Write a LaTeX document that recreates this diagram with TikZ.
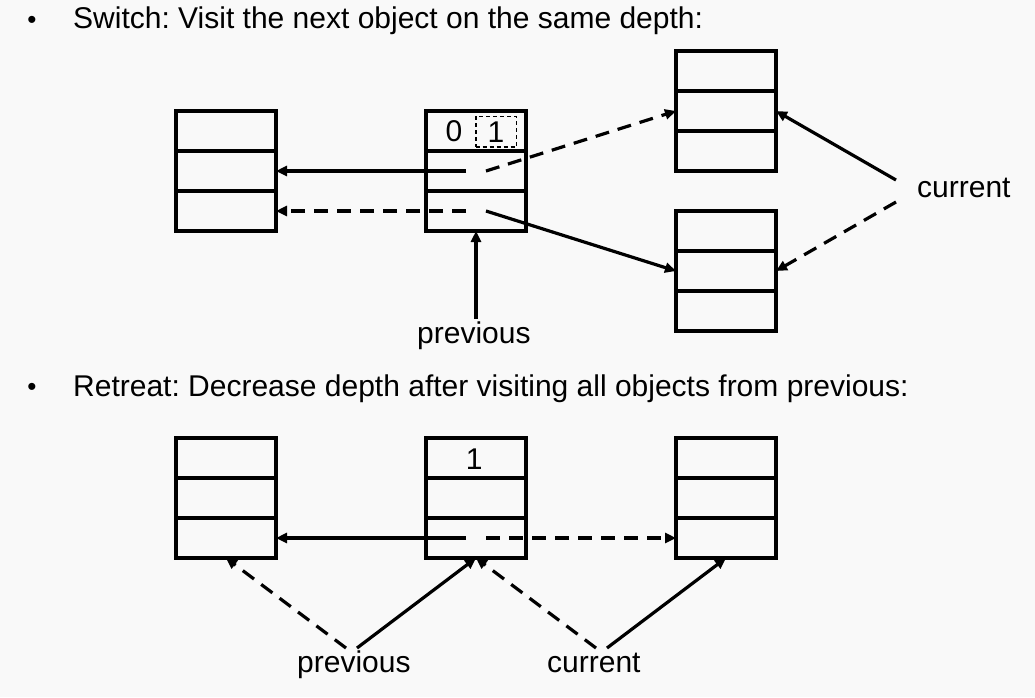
\documentclass[tikz,border=0pt]{standalone}
\usepackage{fontspec}
\setmainfont{Liberation Sans}
\usetikzlibrary{arrows.meta,calc}
\definecolor{bg}{RGB}{249,249,249}
\frenchspacing
\begin{document}
\begin{tikzpicture}[x=1pt,y=-1pt,
  objbox/.style={draw, line width=3.2pt, minimum width=100pt, minimum height=120pt, inner sep=0pt, outer sep=0pt},
  rowline/.style={line width=3.2pt},
  lbl/.style={inner sep=0pt, font=\fontsize{30}{36}\selectfont},
  bul/.style={inner sep=0pt, font=\fontsize{26}{30}\selectfont},
  arr/.style={line width=3.2pt, -{Triangle[length=11pt,width=10pt]}},
  dsh/.style={dash pattern=on 14pt off 9pt},
  flagbox/.style={draw, line width=1.6pt, dash pattern=on 4pt off 3pt, minimum width=40.6pt, minimum height=30.7pt, inner sep=0pt, font=\fontsize{30}{36}\selectfont}
]
\fill[bg] (0,0) rectangle (1035,697);
\useasboundingbox (0,0) rectangle (1035,697);

% titles
\node[bul, anchor=base] (b1) at (32,28) {•};
\node[lbl, anchor=base west] (t1) at (73,28) {Switch: Visit the next object on the same depth:};
\node[bul, anchor=base] (b2) at (32,395) {•};
\node[lbl, anchor=base west] (t2) at (73,396) {Retreat: Decrease depth after visiting all objects from previous:};

% boxes, top
\node[objbox] (L1) at (226,171) {};
\node[objbox] (M1) at (476,171) {};
\node[objbox] (Ra) at (726,111) {};
\node[objbox] (Rb) at (726,271) {};
% boxes, bottom
\node[objbox] (L2) at (226,498) {};
\node[objbox] (M2) at (476,498) {};
\node[objbox] (R2) at (726,498) {};

\foreach \b in {L1,M1,Ra,Rb,L2,M2,R2}{
  \draw[rowline] ($(\b.north west)+(0,40)$) -- ($(\b.north east)+(0,40)$);
  \draw[rowline] ($(\b.north west)+(0,80)$) -- ($(\b.north east)+(0,80)$);
}

% flags
\node[lbl, anchor=base] (zero) at (454,141) {0};
\node[flagbox] (one) at (496,131.7) {1};
\node[lbl, anchor=base] (oneB) at (474.3,469.3) {1};

% top arrows
\coordinate (m1a) at ($(M1.center)+(-10,0)$);
\coordinate (m1b) at ($(M1.center)+(10,0)$);
\coordinate (m1c) at ($(M1.center)+(-10,40)$);
\coordinate (m1d) at ($(M1.center)+(10,40)$);
\draw[arr] (m1a) -- (L1.east);
\draw[arr,dsh] (m1b) -- (Ra.west);
\draw[arr,dsh] (m1c) -- ($(L1.east)+(0,40)$);
\draw[arr] (m1d) -- (Rb.west);

\node[lbl, anchor=base west] (prevA) at (417,343) {previous};
\coordinate (prevAtop) at (476,319);
\draw[arr] (prevAtop) -- (M1.south);

\node[lbl, anchor=base west] (curA) at (917,197) {current};
\coordinate (curA1) at (896,180);
\coordinate (curA2) at (896,202);
\draw[arr] (curA1) -- (Ra.east);
\draw[arr,dsh] (curA2) -- (Rb.east);

% bottom arrows
\coordinate (m2a) at ($(M2.center)+(-10,40)$);
\coordinate (m2b) at ($(M2.center)+(10,40)$);
\draw[arr] (m2a) -- ($(L2.east)+(0,40)$);
\draw[arr,dsh] (m2b) -- ($(R2.west)+(0,40)$);

\node[lbl, anchor=base west] (prevB) at (297,672) {previous};
\node[lbl, anchor=base west] (curB) at (547,672) {current};
\coordinate (pb1) at (346,648);
\coordinate (pb2) at (357,648);
\coordinate (cb1) at (596,648);
\coordinate (cb2) at (607,648);
\draw[arr,dsh] (pb1) -- (L2.south);
\draw[arr] (pb2) -- (M2.south);
\draw[arr,dsh] (cb1) -- (M2.south);
\draw[arr] (cb2) -- (R2.south);
\end{tikzpicture}
\end{document}
